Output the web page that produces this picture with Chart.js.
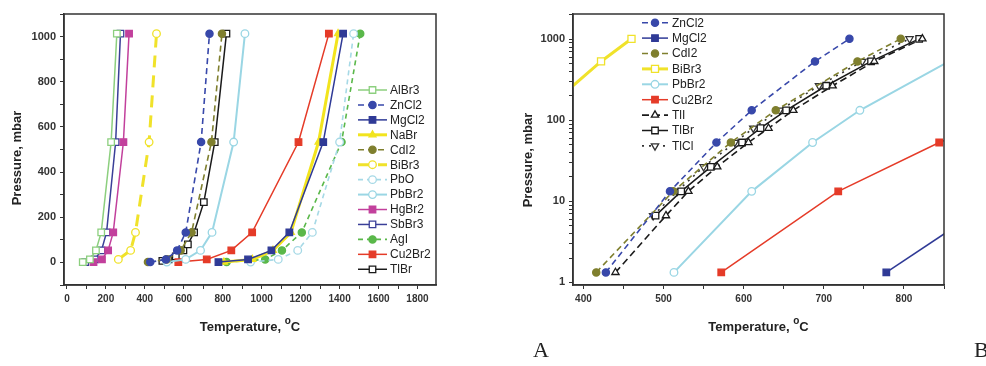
<!DOCTYPE html>
<html><head><meta charset="utf-8">
<script src="https://cdn.jsdelivr.net/npm/chart.js@4.4.1/dist/chart.umd.min.js"></script>
<style>
html,body{margin:0;padding:0;background:#fff;}
#wrap{position:relative;width:986px;height:366px;overflow:hidden;background:#fff;}
canvas{position:absolute;top:0;}
#cA{left:0}
#cB{left:493px}
.lab{position:absolute;font-family:"Liberation Serif","Times New Roman",serif;font-size:22px;color:#222;line-height:22px;}
</style></head><body>
<div id="wrap">
<canvas id="cA" width="493" height="366"></canvas>
<canvas id="cB" width="493" height="366"></canvas>
<div class="lab" style="left:533px;top:339px">A</div>
<div class="lab" style="left:974px;top:339px">B</div>
</div>
<script>
// ---------- data (pressure in mbar, temperature in °C) ----------
const P6  = [1.33, 13.3, 53.3, 133, 533, 1013];
const P5  = [13.3, 53.3, 133, 533, 1013];
const P10 = [1.33, 6.67, 13.3, 26.7, 53.3, 80, 133, 267, 533, 1013];
const P9  = [6.67, 13.3, 26.7, 53.3, 80, 133, 267, 533, 1013];

const T_AlBr3  = [81.3, 118.0, 149.0, 176.1, 227.0, 256.3];
const T_ZnCl2  = [428, 508, 566, 610, 689, 732];
const T_MgCl2  = [778, 930, 1050, 1142, 1316, 1418];
const T_NaBr   = [806, 952, 1058, 1150, 1292, 1392];
const T_CdI2   = [416, 512, 584, 640, 742, 796];
const T_BiBr3  = [264, 327, 352, 422, 460];
const T_PbO    = [943, 1085, 1185, 1260, 1400, 1472];
const T_PbBr2  = [513, 610, 686, 745, 856, 914];
const T_HgBr2  = [136.5, 179.8, 211.5, 237.8, 290.0, 319.0];
const T_SbBr3  = [93.9, 142.7, 177.4, 203.5, 250.2, 275.0];
const T_AgI    = [820, 1018, 1104, 1206, 1410, 1506];
const T_Cu2Br2 = [572, 718, 844, 951, 1189, 1345];
const T_TlBr   = [490, 522, 559, 598, 621, 653, 703, 759, 819];
const T_TlI    = [440, 503, 531, 567, 606, 631, 662, 711, 763, 823];
const T_TlCl   = [487, 517, 550, 589, 612, 645, 694, 748, 807];

// tick values and labels
const XA_TICKS  = [0,100,200,300,400,500,600,700,800,900,1000,1100,1200,1300,1400,1500,1600,1700,1800];
const XA_LABELS = [0,200,400,600,800,1000,1200,1400,1600,1800];
const YA_TICKS  = [-100,0,100,200,300,400,500,600,700,800,900,1000,1100];
const YA_LABELS = [0,200,400,600,800,1000];
const XB_TICKS  = [400,450,500,550,600,650,700,750,800,850];
const XB_LABELS = [400,500,600,700,800];
const YB_TICKS  = [1,2,3,4,5,6,7,8,9,10,20,30,40,50,60,70,80,90,100,200,300,400,500,600,700,800,900,1000,2000];
const YB_LABELS = [1,10,100,1000];

const X_TITLE = 'Temperature, ';
const X_SUP = 'o';
const X_UNIT = 'C';
const Y_TITLE = 'Pressure, mbar';

// ---------- styles ----------
const FONT = '"Liberation Sans", Arial, Helvetica, sans-serif';
const S = {
  AlBr3:  {c:'#8ccf7e', dash:[], w:1.5, ps:'rect', r:4.6, open:true},
  ZnCl2:  {c:'#3848aa', dash:[6,4], w:1.6, ps:'circle', r:3.6, open:false},
  MgCl2:  {c:'#2f3a96', dash:[], w:1.5, ps:'rect', r:4.6, open:false},
  NaBr:   {c:'#f2e41e', dash:[], w:3, ps:'triangle', r:4, open:false},
  CdI2:   {c:'#7f7f2e', dash:[6,4], w:1.6, ps:'circle', r:3.6, open:false},
  BiBr3A: {c:'#f0e22a', dash:[12,8], w:3, ps:'circle', r:3.8, open:true},
  BiBr3B: {c:'#f0e22a', dash:[], w:3, ps:'rect', r:5, open:true},
  PbO:    {c:'#a6d9e6', dash:[5,4], w:1.6, ps:'circle', r:3.8, open:true},
  PbBr2:  {c:'#9ad6e4', dash:[], w:2, ps:'circle', r:3.8, open:true},
  HgBr2:  {c:'#c2409c', dash:[], w:1.5, ps:'rect', r:4.6, open:false},
  SbBr3:  {c:'#3a3f98', dash:[], w:1.5, ps:'rect', r:4.6, open:true},
  AgI:    {c:'#5ab84a', dash:[5,4], w:1.6, ps:'circle', r:3.6, open:false},
  Cu2Br2: {c:'#e53b28', dash:[], w:1.5, ps:'rect', r:4.6, open:false},
  TlBr:   {c:'#1a1a1a', dash:[], w:1.5, ps:'rect', r:4.6, open:true},
  TlI:    {c:'#1a1a1a', dash:[7,4], w:1.6, ps:'triangle', r:4.2, open:true},
  TlCl:   {c:'#333333', dash:[2,5], w:1.6, ps:'triangle', r:4.2, open:true, rot:180}
};

function series(label, temps, press, st) {
  return {
    label: label,
    data: temps.map((t, i) => ({x: t, y: press[i]})),
    borderColor: st.c, backgroundColor: st.c,
    borderWidth: st.w, borderDash: st.dash,
    pointStyle: st.ps, pointRadius: st.r, pointRotation: st.rot || 0,
    pointBorderColor: st.c, pointBackgroundColor: st.open ? '#ffffff' : st.c,
    pointBorderWidth: 1.3, pointHoverRadius: st.r,
    tension: 0, showLine: true, fill: false
  };
}

const decoPlugin = {
  id: 'deco',
  afterDraw(chart, args, o) {
    const ctx = chart.ctx, a = chart.chartArea;
    ctx.save();
    ctx.strokeStyle = '#333'; ctx.lineWidth = 1.5; ctx.setLineDash([]);
    ctx.strokeRect(a.left, a.top, a.right - a.left, a.bottom - a.top);
    ctx.fillStyle = '#222';
    // y title
    ctx.font = 'bold 13px ' + FONT;
    ctx.textAlign = 'center'; ctx.textBaseline = 'middle';
    ctx.save(); ctx.translate(o.yTitleX, o.yTitleY); ctx.rotate(-Math.PI / 2);
    ctx.fillText(Y_TITLE, 0, 0); ctx.restore();
    // x title with superscript
    ctx.textAlign = 'left'; ctx.textBaseline = 'alphabetic';
    const f1 = 'bold 13px ' + FONT, f2 = 'bold 10px ' + FONT;
    ctx.font = f1; const w1 = ctx.measureText(X_TITLE).width, w3 = ctx.measureText(X_UNIT).width;
    ctx.font = f2; const w2 = ctx.measureText(X_SUP).width;
    let x = (a.left + a.right) / 2 - (w1 + w2 + w3) / 2;
    const yb = o.xTitleY;
    ctx.font = f1; ctx.fillText(X_TITLE, x, yb); x += w1;
    ctx.font = f2; ctx.fillText(X_SUP, x, yb - 7); x += w2;
    ctx.font = f1; ctx.fillText(X_UNIT, x, yb);
    // legend
    const L = o.legend;
    chart.data.datasets.forEach((ds, i) => {
      const y = L.y0 + i * L.dy;
      ctx.save();
      ctx.strokeStyle = ds.borderColor; ctx.lineWidth = ds.borderWidth;
      ctx.setLineDash(ds.borderDash || []);
      ctx.beginPath(); ctx.moveTo(L.x0, y); ctx.lineTo(L.x1, y); ctx.stroke();
      ctx.setLineDash([]);
      ctx.fillStyle = ds.pointBackgroundColor; ctx.strokeStyle = ds.pointBorderColor;
      ctx.lineWidth = ds.pointBorderWidth;
      Chart.helpers.drawPoint(ctx, {pointStyle: ds.pointStyle, radius: ds.pointRadius, rotation: ds.pointRotation, borderWidth: ds.pointBorderWidth}, (L.x0 + L.x1) / 2, y);
      ctx.restore();
      ctx.fillStyle = '#222'; ctx.font = '12px ' + FONT;
      ctx.textAlign = 'left'; ctx.textBaseline = 'middle';
      ctx.fillText(ds.label, L.tx, y + 0.5);
    });
    ctx.restore();
  }
};

function axis(type, min, max, size, horizontal, tickVals, labelVals, fontSize) {
  return {
    type: type, min: min, max: max,
    afterFit: s => { if (horizontal) s.height = size; else s.width = size; },
    afterBuildTicks: ax => { ax.ticks = tickVals.map(v => ({value: v})); },
    grid: {display: true, drawOnChartArea: false, drawTicks: true, tickLength: 4, color: '#333', tickColor: '#333', tickWidth: 1},
    border: {display: true, color: '#333', width: 1.5},
    ticks: {autoSkip: false, maxRotation: 0, minRotation: 0, padding: 4, color: '#333',
      font: {size: fontSize, weight: 'bold', family: FONT},
      callback: function (v, i) { const val = tickVals[i]; return labelVals.includes(val) ? String(val) : ''; }}
  };
}

// ---------- chart A ----------
const dsA = [
  series('AlBr3', T_AlBr3, P6, S.AlBr3),
  series('ZnCl2', T_ZnCl2, P6, S.ZnCl2),
  series('MgCl2', T_MgCl2, P6, S.MgCl2),
  series('NaBr', T_NaBr, P6, S.NaBr),
  series('CdI2', T_CdI2, P6, S.CdI2),
  series('BiBr3', T_BiBr3, P5, S.BiBr3A),
  series('PbO', T_PbO, P6, S.PbO),
  series('PbBr2', T_PbBr2, P6, S.PbBr2),
  series('HgBr2', T_HgBr2, P6, S.HgBr2),
  series('SbBr3', T_SbBr3, P6, S.SbBr3),
  series('AgI', T_AgI, P6, S.AgI),
  series('Cu2Br2', T_Cu2Br2, P6, S.Cu2Br2),
  series('TlBr', T_TlBr, P9, S.TlBr)
];

new Chart(document.getElementById('cA'), {
  type: 'line',
  data: {datasets: dsA},
  options: {
    responsive: false, animation: false, devicePixelRatio: 1,
    layout: {padding: {left: 0, top: 14, right: 57, bottom: 51}},
    plugins: {legend: {display: false}, tooltip: {enabled: false},
      deco: {yTitleX: 17, yTitleY: 158, xTitleY: 331, legend: {x0: 358, x1: 387, tx: 390, y0: 90, dy: 14.94}}},
    scales: {
      x: axis('linear', -15, 1895, 30, true, XA_TICKS, XA_LABELS, 10),
      y: axis('linear', -100, 1100, 64, false, YA_TICKS, YA_LABELS, 11)
    }
  },
  plugins: [decoPlugin]
});

// ---------- chart B ----------
const dsB = [
  series('ZnCl2', T_ZnCl2, P6, S.ZnCl2),
  series('MgCl2', T_MgCl2, P6, S.MgCl2),
  series('CdI2', T_CdI2, P6, S.CdI2),
  series('BiBr3', T_BiBr3, P5, S.BiBr3B),
  series('PbBr2', T_PbBr2, P6, S.PbBr2),
  series('Cu2Br2', T_Cu2Br2, P6, S.Cu2Br2),
  series('TlI', T_TlI, P10, S.TlI),
  series('TlBr', T_TlBr, P9, S.TlBr),
  series('TlCl', T_TlCl, P9, S.TlCl)
];

new Chart(document.getElementById('cB'), {
  type: 'line',
  data: {datasets: dsB},
  options: {
    responsive: false, animation: false, devicePixelRatio: 1,
    layout: {padding: {left: 0, top: 14, right: 42, bottom: 51}},
    plugins: {legend: {display: false}, tooltip: {enabled: false},
      deco: {yTitleX: 35, yTitleY: 160, xTitleY: 331, legend: {x0: 149, x1: 175, tx: 179, y0: 22.7, dy: 15.4}}},
    scales: {
      x: axis('linear', 387, 850, 30, true, XB_TICKS, XB_LABELS, 10),
      y: axis('logarithmic', 0.93, 2050, 80, false, YB_TICKS, YB_LABELS, 11)
    }
  },
  plugins: [decoPlugin]
});
</script>
</body></html>
